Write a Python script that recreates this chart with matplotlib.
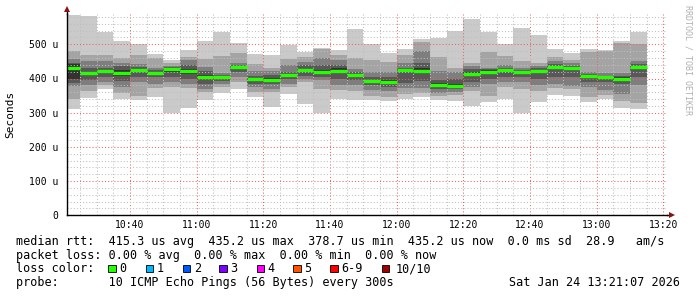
import matplotlib
matplotlib.use("Agg")
import matplotlib.pyplot as plt
from matplotlib.patches import Rectangle

# ---------------- data ----------------
first_bin_start = 10 * 60 + 20      # minutes of day, first 5-min bin
bin_minutes = 5
view_start = 10 * 60 + 21 + 7 / 60  # 10:21:07
view_end = 13 * 60 + 21 + 7 / 60    # 13:21:07

# 10 sorted ping RTTs per 5-minute bin (microseconds)
pings = [
    [312, 339, 378, 388, 400, 441, 444, 457, 480, 586],
    [344, 362, 382, 395, 410, 418, 430, 452, 468, 583],
    [368, 381, 390, 405, 415, 426, 432, 451, 468, 536],
    [340, 358, 375, 393, 408, 425, 437, 446, 459, 509],
    [338, 349, 390, 405, 418, 428, 435, 441, 468, 500],
    [346, 372, 384, 405, 413, 420, 424, 430, 459, 471],
    [300, 376, 390, 405, 420, 432, 434, 438, 445, 455],
    [315, 373, 383, 400, 412, 428, 440, 454, 463, 484],
    [338, 360, 368, 384, 398, 410, 421, 435, 458, 510],
    [357, 375, 385, 393, 400, 407, 410, 416, 466, 537],
    [368, 390, 405, 418, 428, 437, 440, 446, 475, 505],
    [346, 360, 376, 385, 394, 402, 408, 423, 443, 472],
    [316, 360, 370, 384, 392, 400, 410, 423, 430, 470],
    [354, 375, 385, 398, 406, 413, 420, 440, 458, 498],
    [325, 390, 398, 408, 418, 428, 440, 449, 462, 478],
    [298, 370, 395, 405, 415, 425, 440, 460, 485, 488],
    [339, 365, 382, 400, 415, 430, 440, 454, 469, 484],
    [338, 362, 381, 395, 406, 414, 418, 427, 459, 545],
    [338, 350, 365, 380, 390, 397, 405, 418, 454, 500],
    [335, 345, 362, 375, 385, 395, 405, 420, 449, 476],
    [339, 355, 372, 386, 420, 428, 432, 444, 469, 486],
    [346, 358, 372, 394, 416, 430, 444, 480, 508, 515],
    [338, 350, 358, 368, 375, 388, 395, 422, 462, 518],
    [334, 352, 360, 368, 375, 385, 400, 420, 430, 540],
    [320, 362, 376, 390, 408, 420, 428, 438, 444, 574],
    [330, 350, 385, 398, 415, 424, 428, 432, 478, 537],
    [339, 375, 390, 405, 420, 428, 432, 440, 467, 500],
    [300, 368, 390, 405, 415, 422, 425, 430, 452, 547],
    [331, 363, 380, 400, 418, 426, 430, 436, 444, 527],
    [352, 372, 385, 405, 428, 438, 442, 450, 464, 486],
    [349, 370, 378, 405, 424, 432, 437, 445, 454, 476],
    [330, 345, 375, 390, 402, 409, 412, 420, 478, 485],
    [339, 352, 366, 390, 400, 406, 408, 415, 479, 484],
    [314, 335, 355, 385, 396, 404, 408, 415, 505, 510],
    [311, 328, 380, 405, 428, 438, 443, 451, 500, 537],
]
median = [430, 415, 421, 416, 426, 417, 429, 421, 404, 404, 434, 398,
          395, 411, 424, 420, 422, 410, 393, 389, 424, 422, 380, 377,
          413, 420, 425, 419, 423, 434, 430, 406, 404, 400, 434]

x_tick_minutes = [640, 660, 680, 700, 720, 740, 760, 780, 800]
x_tick_labels = ["10:40", "11:00", "11:20", "11:40", "12:00", "12:20",
                 "12:40", "13:00", "13:20"]
y_ticks = [0, 100, 200, 300, 400, 500]
y_tick_labels = ["0", "100 u", "200 u", "300 u", "400 u", "500 u"]
y_max = 590

legend_lines = [
    "median rtt:  415.3 us avg  435.2 us max  378.7 us min  435.2 us now  0.0 ms sd  28.9   am/s",
    "packet loss: 0.00 % avg  0.00 % max  0.00 % min  0.00 % now",
]
loss_labels = ["0", "1", "2", "3", "4", "5", "6-9", "10/10"]
loss_colors = ["#26ff00", "#00b8ff", "#0059ff", "#7e00ff", "#ff00ff",
               "#ff5500", "#ff0000", "#a00000"]
probe_text = "probe:       10 ICMP Echo Pings (56 Bytes) every 300s"
date_text = "Sat Jan 24 13:21:07 2026"

smoke_colors = ["#cacaca", "#a4a4a4", "#7e7e7e", "#585858", "#323232"]
median_color = "#26ff00"

# ---------------- figure ----------------
W, H = 697, 297
fig = plt.figure(figsize=(W / 100, H / 100), dpi=100)
fig.patch.set_facecolor("white")
mono = "DejaVu Sans Mono"

ax_left, ax_right = 67, 667
ax_bottom_px = 215.3
px_per_unit = 0.342
ax_h = y_max * px_per_unit
ax = fig.add_axes([ax_left / W, (H - ax_bottom_px) / H,
                   (ax_right - ax_left) / W, ax_h / H])
ax.set_facecolor("white")

# smoke bands
for i, p in enumerate(pings):
    x0 = first_bin_start + i * bin_minutes
    for k in range(5):
        lo, hi = p[k], p[9 - k]
        ax.bar(x0, hi - lo, bottom=lo, width=bin_minutes, align="edge",
               color=smoke_colors[k], linewidth=0, zorder=1)
    ax.hlines(median[i], x0, x0 + bin_minutes, colors=median_color,
              linewidth=2.4, zorder=3)

ax.set_xlim(view_start, view_end)
ax.set_ylim(0, y_max)

ax.set_xticks(x_tick_minutes)
ax.set_xticklabels(x_tick_labels, fontfamily=mono, fontsize=7)
ax.set_xticks(range(625, 805, 5), minor=True)
ax.set_yticks(y_ticks)
ax.set_yticklabels(y_tick_labels, fontfamily=mono, fontsize=7)
ax.set_yticks(range(20, 590, 20), minor=True)
ax.tick_params(which="both", length=0)
ax.tick_params(axis="x", pad=3.5)
ax.tick_params(axis="y", pad=6.5)

ax.set_axisbelow(False)
ax.grid(which="minor", color=(0.75, 0.75, 0.75, 0.65), linestyle=(0, (1, 2)),
        linewidth=0.75)
ax.grid(which="major", color=(0.9, 0.4, 0.4, 0.55), linestyle=(0, (1, 2)),
        linewidth=0.75)

for s in ["top", "right"]:
    ax.spines[s].set_visible(False)
for s in ["left", "bottom"]:
    ax.spines[s].set_color("black")
    ax.spines[s].set_linewidth(1.0)
    ax.spines[s].set_zorder(5)

# axis extensions + arrows
ax.plot([0, 0], [1.0, 1.015], transform=ax.transAxes, color="black",
        lw=1.0, clip_on=False)
ax.plot([1.0, 1.006], [0, 0], transform=ax.transAxes, color="black",
        lw=1.0, clip_on=False)
ax.plot([0], [1.02], marker="^", ms=4.5, color="#8b1010",
        transform=ax.transAxes, clip_on=False, mew=0)
ax.plot([1.008], [0], marker=">", ms=4.5, color="#8b1010",
        transform=ax.transAxes, clip_on=False, mew=0)

ax.set_ylabel("Seconds", fontfamily=mono, fontsize=8)
ax.yaxis.set_label_coords(-(67 - 15.5) / 600, 0.5)

# watermark
fig.text(688 / W, 1 - 60 / H, "RRDTOOL / TOBI OETIKER", rotation=270,
         fontsize=6, color="#b0b0b0", fontfamily=mono,
         ha="center", va="center")

# legend text
x_txt = 16 / W
baselines = [245, 258.6, 272.2, 285.8]
fs = 8.5
for line, yb in zip(legend_lines, baselines[:2]):
    fig.text(x_txt, 1 - yb / H, line, fontfamily=mono, fontsize=fs,
             va="baseline", ha="left", color="black")
fig.text(x_txt, 1 - baselines[2] / H, "loss color:", fontfamily=mono,
         fontsize=fs, va="baseline", ha="left", color="black")
box_x = [108.3, 145.7, 182.7, 219.3, 256.7, 293.3, 330.0, 381.7]
for bx, lab, col in zip(box_x, loss_labels, loss_colors):
    fig.patches.append(Rectangle((bx / W, 1 - 272 / H), 7.5 / W, 7.5 / H,
                                 transform=fig.transFigure,
                                 facecolor=col, edgecolor="black",
                                 linewidth=0.6))
    off = 14 if lab == "10/10" else 11
    fig.text((bx + off) / W, 1 - baselines[2] / H, lab, fontfamily=mono,
             fontsize=fs, va="baseline", ha="left", color="black")
fig.text(x_txt, 1 - baselines[3] / H, probe_text, fontfamily=mono,
         fontsize=fs, va="baseline", ha="left", color="black")
fig.text(680 / W, 1 - baselines[3] / H, date_text, fontfamily=mono,
         fontsize=fs, va="baseline", ha="right", color="black")

fig.savefig("out.png", dpi=100, facecolor="white")
